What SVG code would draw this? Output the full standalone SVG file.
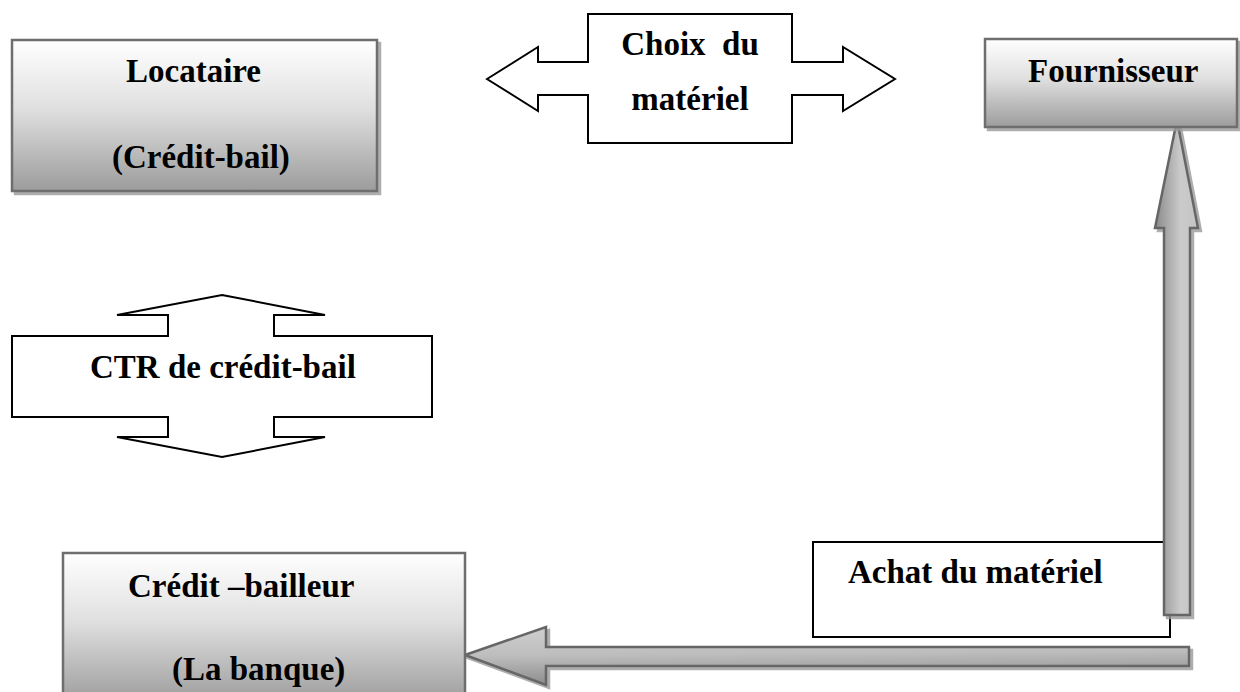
<svg xmlns="http://www.w3.org/2000/svg" width="1240" height="692" viewBox="0 0 1240 692">
<style>
.t{font-family:"Liberation Serif","Times New Roman",serif;font-weight:bold;font-size:33px;fill:#000}
.box{stroke:#6e6e6e;stroke-width:2.5;fill:url(#gBox)}
.outline{fill:#fff;stroke:#000;stroke-width:2}
.arr{stroke:#666;stroke-width:2.5}
</style>
<defs>
<linearGradient id="gBox" x1="0" y1="0" x2="0" y2="1">
<stop offset="0" stop-color="#ffffff"/>
<stop offset="0.45" stop-color="#e0e0e0"/>
<stop offset="1" stop-color="#9c9c9c"/>
</linearGradient>
<linearGradient id="gV" x1="0" y1="0" x2="1" y2="0">
<stop offset="0" stop-color="#8a8a8a"/>
<stop offset="0.6" stop-color="#cbcbcb"/>
<stop offset="1" stop-color="#c4c4c4"/>
</linearGradient>
<linearGradient id="gH" x1="0" y1="0" x2="0.1" y2="1">
<stop offset="0" stop-color="#d0d0d0"/>
<stop offset="0.5" stop-color="#bdbdbd"/>
<stop offset="1" stop-color="#8c8c8c"/>
</linearGradient>
<filter id="sh" x="-10%" y="-10%" width="130%" height="130%">
<feDropShadow dx="3" dy="3" stdDeviation="0.6" flood-color="#9a9a9a" flood-opacity="0.8"/>
</filter>
</defs>

<g id="connectors">
<g id="choix">
<path class="outline" d="M487,79 L538,47 L538,62 L588,62 L588,14 L792,14 L792,62 L843,62 L843,47 L895,79 L843,111 L843,95 L792,95 L792,143 L588,143 L588,95 L538,95 L538,111 Z"/>
<text class="t" x="690" y="55" text-anchor="middle" xml:space="preserve">Choix  du</text>
<text class="t" x="690" y="110" text-anchor="middle">matériel</text>
</g>
<g id="ctr">
<path class="outline" d="M222,295 L325,315 L274,315 L274,336 L432,336 L432,417 L274,417 L274,437 L325,437 L222,457 L117,437 L168,437 L168,417 L12,417 L12,336 L168,336 L168,315 L117,315 Z"/>
<text class="t" x="90" y="378">CTR de crédit-bail</text>
</g>
<g id="achat">
<rect class="outline" x="813" y="542" width="357" height="95"/>
<text class="t" x="848" y="583">Achat du matériel</text>
</g>
<path class="arr" fill="url(#gV)" filter="url(#sh)" d="M1177,120 L1198,228 L1190,228 L1190,615 L1164,615 L1164,228 L1155,228 Z"/>
<path class="arr" fill="url(#gH)" filter="url(#sh)" d="M465,655 L546,627 L546,647 L1189,647 L1189,666 L546,666 L546,685 Z"/>
</g>

<g id="locataire">
<rect class="box" x="12" y="40" width="365" height="151" filter="url(#sh)"/>
<text class="t" x="126" y="82">Locataire</text>
<text class="t" x="112" y="168">(Crédit-bail)</text>
</g>

<g id="fournisseur">
<rect class="box" x="985" y="39" width="252" height="88" filter="url(#sh)"/>
<text class="t" x="1028" y="82">Fournisseur</text>
</g>

<g id="credit-bailleur">
<rect class="box" x="63" y="553" width="402" height="150"/>
<text class="t" x="128" y="597">Crédit –bailleur</text>
<text class="t" x="172" y="680">(La banque)</text>
</g>
</svg>
